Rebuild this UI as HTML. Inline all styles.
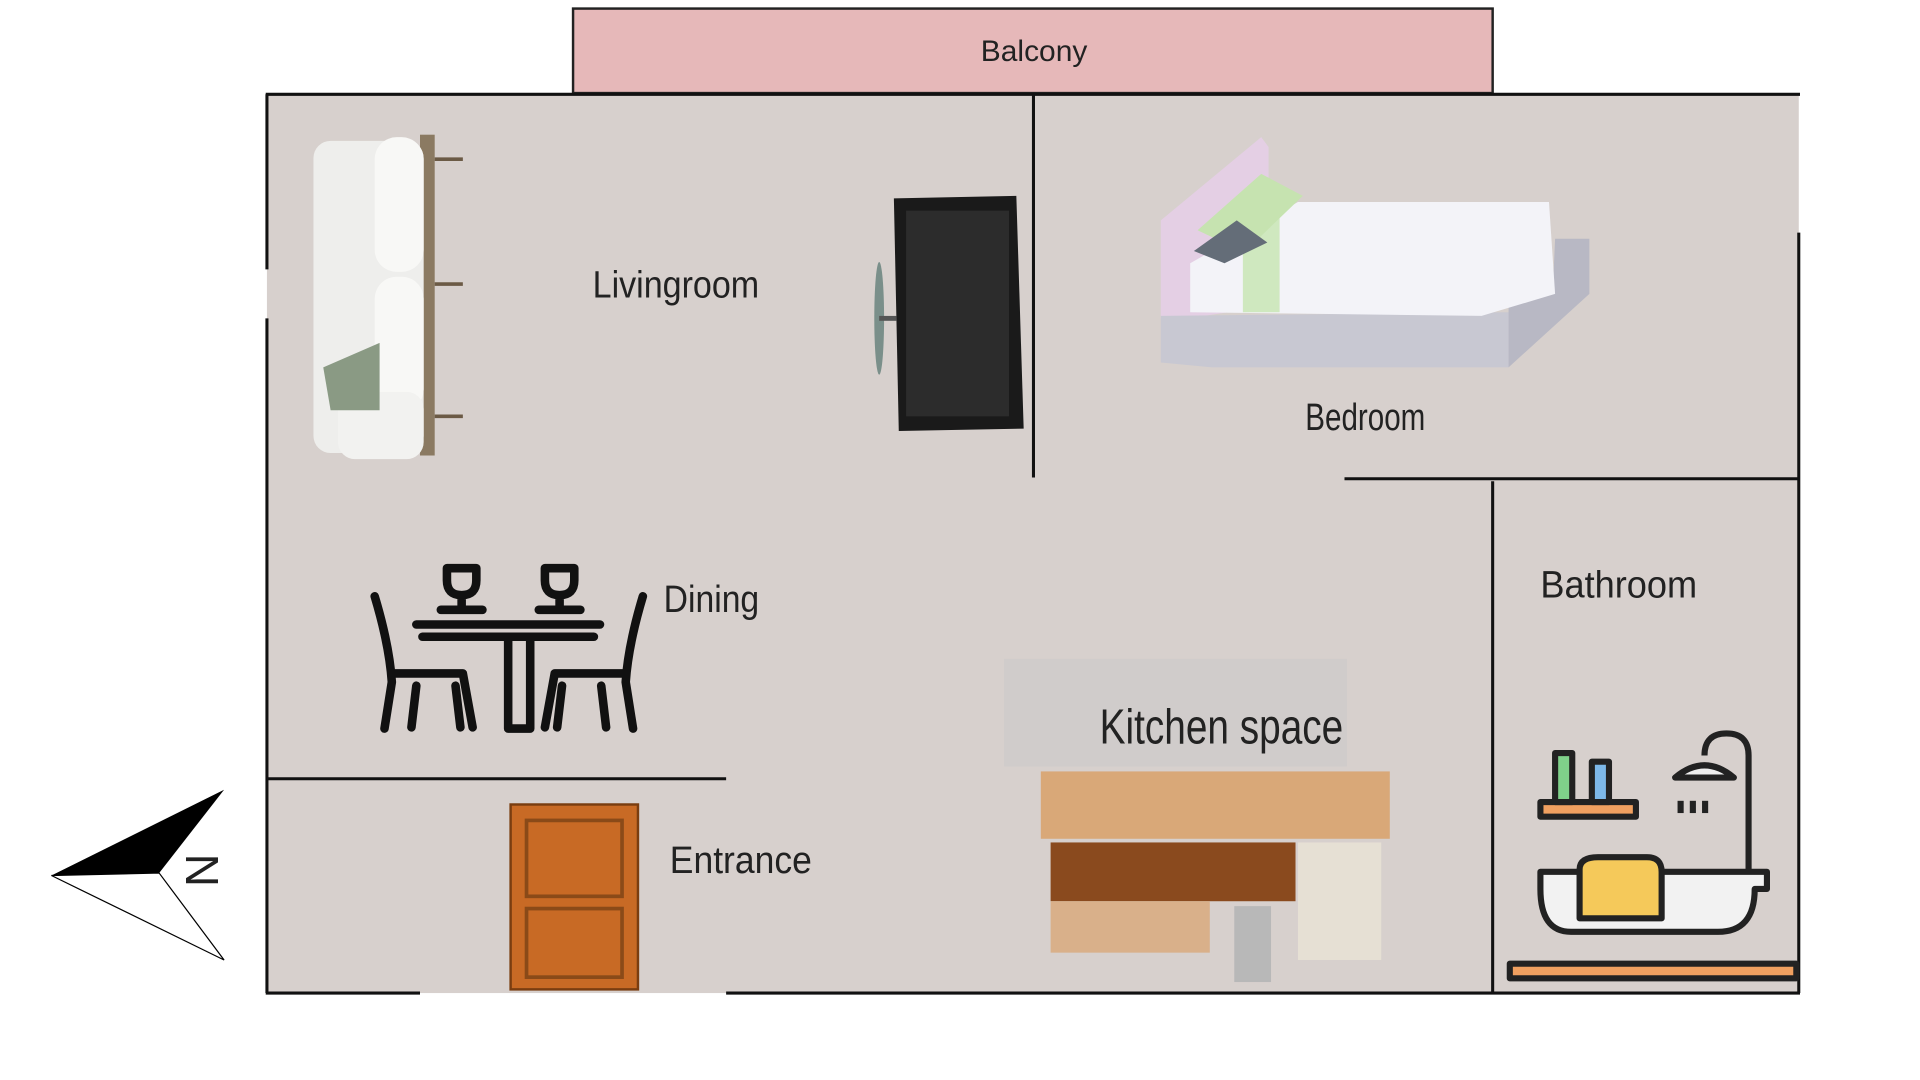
<!DOCTYPE html>
<html><head><meta charset="utf-8"><style>
html,body{margin:0;padding:0;background:#fff;width:1920px;height:1080px;overflow:hidden}
svg{display:block}
text{font-family:"Liberation Sans",sans-serif;fill:#222}
</style></head><body>
<svg width="1920" height="1080" viewBox="0 0 1568 882" preserveAspectRatio="none" xmlns="http://www.w3.org/2000/svg">
<rect width="1568" height="882" fill="#fff"/>
<!-- balcony -->
<rect x="468" y="7" width="751" height="69" fill="#e6b8b9" stroke="#222" stroke-width="2"/>
<text x="801" y="50" font-size="24" textLength="87" lengthAdjust="spacingAndGlyphs">Balcony</text>
<!-- floor -->
<rect x="218" y="77" width="1251" height="734" fill="#d7d0cd"/>
<rect x="820" y="538" width="280" height="88" fill="#d0cccb"/>
<!-- walls -->
<g stroke="#111" stroke-width="2.5" fill="none">
<line x1="217" y1="77" x2="1470" y2="77"/>
<line x1="218" y1="77" x2="218" y2="220"/>
<line x1="218" y1="260" x2="218" y2="811"/>
<line x1="1469" y1="190" x2="1469" y2="811"/>
<line x1="217" y1="811" x2="343" y2="811"/>
<line x1="593" y1="811" x2="1470" y2="811"/>
<line x1="844" y1="77" x2="844" y2="390"/>
<line x1="1098" y1="391" x2="1469" y2="391"/>
<line x1="1219" y1="393" x2="1219" y2="811"/>
<line x1="218" y1="636" x2="593" y2="636"/>
</g>
<!-- sofa -->
<rect x="343" y="110" width="12" height="262" fill="#8b7a62"/>
<g stroke="#6b5a45" stroke-width="3"><line x1="355" y1="130" x2="378" y2="130"/><line x1="355" y1="232" x2="378" y2="232"/><line x1="355" y1="340" x2="378" y2="340"/></g>
<rect x="256" y="115" width="90" height="255" rx="14" fill="#eeeeec"/>
<rect x="306" y="112" width="40" height="110" rx="18" fill="#f8f8f6"/>
<rect x="306" y="226" width="40" height="110" rx="18" fill="#f8f8f6"/>
<rect x="276" y="320" width="70" height="55" rx="14" fill="#f2f2f0"/>
<polygon points="264,300 310,280 310,335 270,335" fill="#8a9a84"/>
<!-- TV -->
<ellipse cx="718" cy="260" rx="4" ry="46" fill="#7a8f8a"/>
<rect x="718" y="258" width="14" height="4" fill="#555"/>
<polygon points="730,162 830,160 836,350 734,352" fill="#1a1a1a"/>
<rect x="740" y="172" width="84" height="168" fill="#2c2c2c"/>
<!-- bed -->
<polygon points="948,180 1030,112 1036,120 1036,250 970,260 948,260" fill="#e4cfe4"/>
<polygon points="948,258 1232,255 1232,300 990,300 948,296" fill="#c8c8d2"/>
<polygon points="1232,250 1268,240 1270,195 1298,195 1298,240 1232,300" fill="#b8b8c4"/>
<polygon points="972,215 1060,165 1265,165 1270,240 1210,258 972,255" fill="#f3f3f8"/>
<rect x="1015" y="165" width="30" height="90" fill="#cfe8bf"/>
<polygon points="978,188 1030,142 1064,160 1016,206" fill="#c6e3b0"/>
<polygon points="975,205 1010,180 1035,198 1000,215" fill="#646d78"/>
<text x="1066" y="351" font-size="31" textLength="98" lengthAdjust="spacingAndGlyphs">Bedroom</text>
<text x="484" y="243" font-size="31" textLength="136" lengthAdjust="spacingAndGlyphs">Livingroom</text>
<!-- dining -->
<g stroke="#111" stroke-width="7" fill="none" stroke-linecap="round" stroke-linejoin="round">
<path d="M365 464 h24 v10 q0 12 -12 12 q-12 0 -12 -12z M377 486 v10 M360 498 h34"/>
<path d="M445 464 h24 v10 q0 12 -12 12 q-12 0 -12 -12z M457 486 v10 M440 498 h34"/>
<path d="M340 510 h150 M345 520 h140 M415 520 v75 h18 v-75"/>
<path d="M306 487 q12 40 14 70 l-6 38 M320 550 h58 l8 44 M340 560 l-4 34 M372 560 l4 34"/>
<path d="M525 487 q-12 40 -14 70 l6 38 M511 550 h-58 l-8 44 M491 560 l4 34 M459 560 l-4 34"/>
</g>
<text x="542" y="500" font-size="31" textLength="78" lengthAdjust="spacingAndGlyphs">Dining</text>
<!-- kitchen -->
<text x="898" y="607" font-size="40" textLength="199" lengthAdjust="spacingAndGlyphs">Kitchen space</text>
<rect x="850" y="630" width="285" height="55" fill="#d9a878"/>
<rect x="858" y="688" width="200" height="48" fill="#8a4a1e"/>
<rect x="858" y="736" width="130" height="42" fill="#d9b08a"/>
<rect x="1060" y="688" width="68" height="96" fill="#e6e0d4"/>
<rect x="1008" y="740" width="30" height="62" fill="#b8b8b8"/>
<!-- door -->
<rect x="417" y="657" width="104" height="151" fill="#c86a25" stroke="#7a3d10" stroke-width="2"/>
<rect x="430" y="670" width="78" height="62" fill="none" stroke="#8a4a18" stroke-width="3"/>
<rect x="430" y="742" width="78" height="56" fill="none" stroke="#8a4a18" stroke-width="3"/>
<text x="547" y="713" font-size="31" textLength="116" lengthAdjust="spacingAndGlyphs">Entrance</text>
<!-- bathroom -->
<text x="1258" y="488" font-size="31" textLength="128" lengthAdjust="spacingAndGlyphs">Bathroom</text>
<g stroke="#222" stroke-width="5" stroke-linejoin="round">
<rect x="1258" y="655" width="78" height="12" fill="#f0a060"/>
<rect x="1270" y="615" width="14" height="40" fill="#7fd18a"/>
<rect x="1300" y="622" width="14" height="33" fill="#7db8e8"/>
<path d="M1258 712 h185 v14 h-10 q0 35 -30 35 h-120 q-25 0 -25 -35 h-0z" fill="#f2f2f2"/>
<path d="M1290 750 v-40 q0 -10 15 -10 h40 q12 0 12 12 v38z" fill="#f5c95a"/>
<rect x="1233" y="787" width="234" height="12" fill="#f0a060"/>
<path d="M1428 712 v-95 q0 -18 -18 -18 q-18 0 -18 18" fill="none"/>
<path d="M1368 635 q24 -20 48 0z" fill="#eee"/>
</g>
<g fill="#222"><rect x="1370" y="654" width="5" height="10"/><rect x="1380" y="654" width="5" height="10"/><rect x="1390" y="654" width="5" height="10"/></g>
<!-- compass -->
<polygon points="42,715 183,645 130,713" fill="#000"/>
<polygon points="42,715 130,713 183,784" fill="#fff" stroke="#000" stroke-width="1"/>
<text x="0" y="0" font-size="38" transform="translate(152 697) rotate(90)">N</text>
</svg>
</body></html>
